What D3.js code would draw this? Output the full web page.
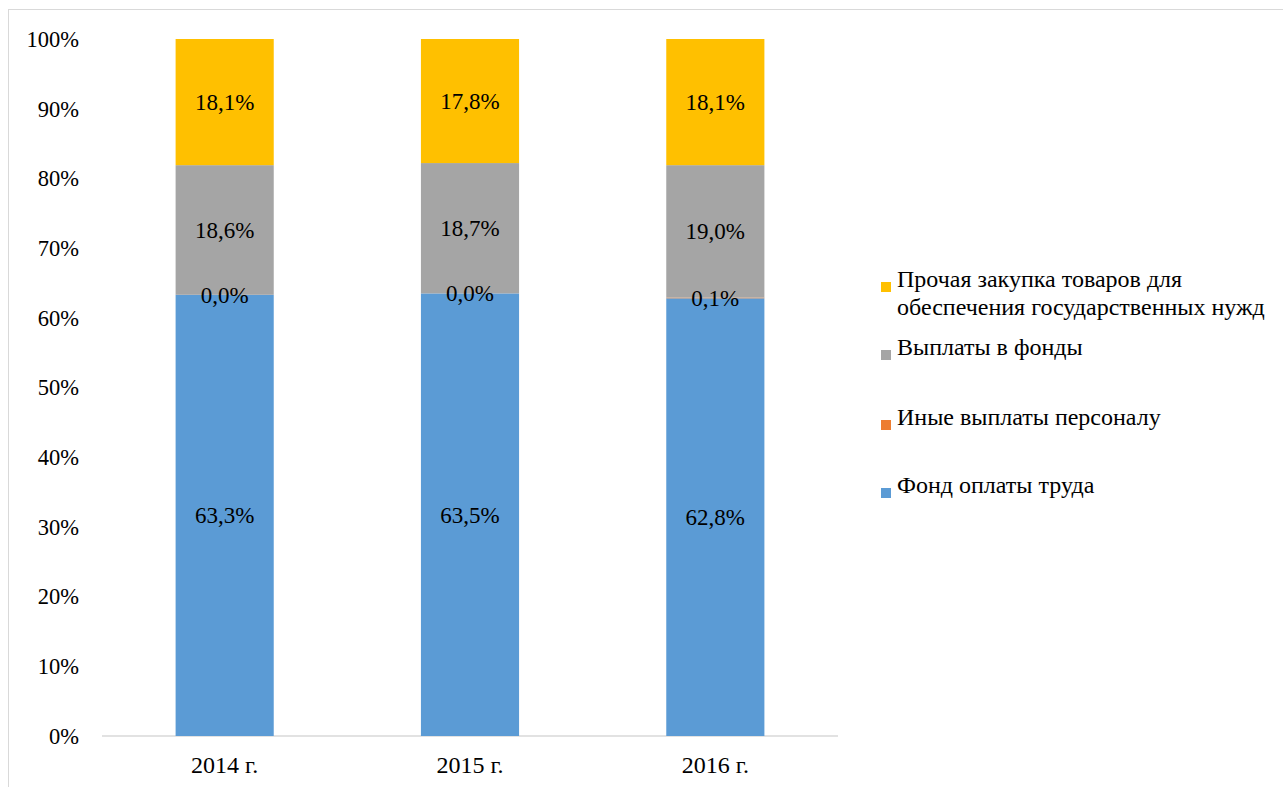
<!DOCTYPE html>
<html>
<head>
<meta charset="utf-8">
<script src="https://cdn.jsdelivr.net/npm/d3@7"></script>
</head>
<body style="margin:0">
<svg id="chart" width="1283" height="787" font-family="Liberation Serif"></svg>
<script>
// chart data
var years = ["2014 г.", "2015 г.", "2016 г."];
var seriesNames = ["Фонд оплаты труда", "Иные выплаты персоналу", "Выплаты в фонды",
                   "Прочая закупка товаров для обеспечения государственных нужд"];
var fondOplaty = [63.3, 63.5, 62.8];
var inyeVyplaty = [0.0, 0.0, 0.1];
var vyplatyFondy = [18.6, 18.7, 19.0];
var prochayaZakupka = [18.1, 17.8, 18.1];
var yTicks = [0, 10, 20, 30, 40, 50, 60, 70, 80, 90, 100];

var colors = ["#5B9BD5", "#ED7D31", "#A5A5A5", "#FFC000"];
var seriesValues = [fondOplaty, inyeVyplaty, vyplatyFondy, prochayaZakupka];
var FONT = "'Liberation Serif'";

var W = 1283, H = 787;
var svg = d3.select("#chart");

// outer frame
svg.append("rect")
    .attr("x", 8.5).attr("y", 9.5)
    .attr("width", W + 10).attr("height", H + 10)
    .style("fill", "#fff").style("stroke", "#d9d9d9");

var x = d3.scaleBand().domain(years).range([102, 838]).paddingInner(0.6).paddingOuter(0.3);
var y = d3.scaleLinear().domain([0, 100]).range([736, 39]);

// build stack rows
var rows = years.map(function(yr, i) {
    var r = { year: yr };
    seriesNames.forEach(function(s, k) { r[s] = seriesValues[k][i]; });
    return r;
});
var stacked = d3.stack().keys(seriesNames)(rows);

// y axis labels
svg.selectAll(".ytick")
    .data(yTicks)
    .enter().append("text")
    .attr("class", "ytick")
    .attr("x", 79)
    .attr("y", function(d) { return y(d); })
    .attr("dy", "0.35em")
    .attr("text-anchor", "end")
    .style("font-family", FONT)
    .style("font-size", "22.5px")
    .text(function(d) { return d + "%"; });

// x axis line
svg.append("line")
    .attr("x1", 102).attr("x2", 838)
    .attr("y1", y(0)).attr("y2", y(0))
    .style("stroke", "#d9d9d9").style("stroke-width", 1.5);

var layer = svg.selectAll(".layer")
    .data(stacked)
    .enter().append("g")
    .attr("class", "layer")
    .style("fill", function(d, i) { return colors[i]; });

layer.selectAll("rect")
    .data(function(d) { return d; })
    .enter().append("rect")
    .attr("x", function(d) { return x(d.data.year); })
    .attr("width", x.bandwidth())
    .attr("y", function(d) { return y(d[1]); })
    .attr("height", function(d) { return y(d[0]) - y(d[1]); });

// segment labels, drawn on top of every bar
var allSegs = [];
stacked.forEach(function(s) { s.forEach(function(d) { allSegs.push(d); }); });

svg.append("g").selectAll("text")
    .data(allSegs)
    .enter().append("text")
    .attr("x", function(d) { return x(d.data.year) + x.bandwidth() / 2; })
    .attr("y", function(d) { return y((d[0] + d[1]) / 2); })
    .attr("dy", "0.35em")
    .attr("text-anchor", "middle")
    .style("font-family", FONT)
    .style("font-size", "23px")
    .style("fill", "#000")
    .text(function(d) { return (d[1] - d[0]).toFixed(1).replace(".", ",") + "%"; });

// category labels
svg.selectAll(".xlab")
    .data(years)
    .enter().append("text")
    .attr("class", "xlab")
    .attr("x", function(d) { return x(d) + x.bandwidth() / 2; })
    .attr("y", 765)
    .attr("dy", "0.35em")
    .attr("text-anchor", "middle")
    .style("font-family", FONT)
    .style("font-size", "24px")
    .text(function(d) { return d; });

// legend, top entry first
var legendItems = [
    { color: colors[3], lines: ["Прочая закупка товаров для", "обеспечения государственных нужд"], y: 287 },
    { color: colors[2], lines: ["Выплаты в фонды"], y: 355 },
    { color: colors[1], lines: ["Иные выплаты персоналу"], y: 425 },
    { color: colors[0], lines: ["Фонд оплаты труда"], y: 493 }
];

var legend = svg.selectAll(".legend")
    .data(legendItems)
    .enter().append("g")
    .attr("class", "legend");

legend.append("rect")
    .attr("x", 881)
    .attr("y", function(d) { return d.y - 5; })
    .attr("width", 10).attr("height", 10)
    .style("fill", function(d) { return d.color; });

legend.append("text")
    .attr("x", 897)
    .attr("y", function(d) { return d.y; })
    .attr("dy", "0.35em")
    .style("font-family", FONT)
    .style("font-size", "24px")
    .selectAll("tspan")
    .data(function(d) { return d.lines; })
    .enter().append("tspan")
    .attr("x", 897)
    .attr("dy", function(d, i) { return i === 0 ? 0 : 28; })
    .text(function(d) { return d; });
</script>
</body>
</html>
